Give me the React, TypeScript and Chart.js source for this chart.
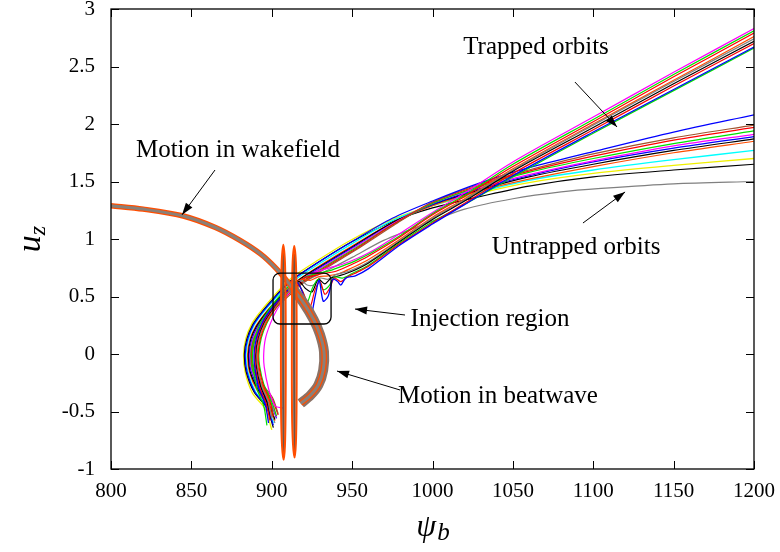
import React, { useEffect, useRef } from "react";
import { Chart, registerables } from "chart.js";
Chart.register(...registerables);

type Pt = [number, number];

// ---------- axes ----------
const xTickValues = [800, 850, 900, 950, 1000, 1050, 1100, 1150, 1200];
const yTickValues = [-1, -0.5, 0, 0.5, 1, 1.5, 2, 2.5, 3];
const yTickLabels = ["-1", "-0.5", "0", "0.5", "1", "1.5", "2", "2.5", "3"];
const xTitle = "ψ";
const xTitleSub = "b";
const yTitle = "u";
const yTitleSub = "z";

// ---------- colours (gnuplot postscript palette) ----------
const RED = "#ff0000";
const GREEN = "#00e000";
const BLUE = "#0000ff";
const MAGENTA = "#ff00ff";
const CYAN = "#00ffff";
const YELLOW = "#f0f000";
const BLACK = "#000000";
const ORANGE = "#ff4d00";
const GRAY = "#808080";

// ---------- wakefield band + beatwave right arc ----------
const wakefieldPath: Pt[] = [
  [800, 1.29], [820, 1.26], [845, 1.2], [865, 1.1], [880, 0.99], [893, 0.87], [903, 0.74],
  [912, 0.59], [920, 0.44], [926, 0.3], [930, 0.17], [932.5, 0.02], [932, -0.14],
  [929, -0.27], [924, -0.36], [918, -0.43],
];
const beatwaveArc: Pt[] = [
  [912, 0.59], [920, 0.44], [926, 0.3], [930, 0.17], [932.5, 0.02], [932, -0.14], [929, -0.27],
  [924, -0.36], [918, -0.43],
];

// ---------- tall oscillations in the injection zone ----------
const spikeA: Pt[] = [
  [905.7, 0], [905.8, 0.5], [906.2, 0.8], [907.2, 0.95], [908.2, 0.8], [908.6, 0.5], [908.7, 0],
  [908.6, -0.5], [908.2, -0.8], [907.4, -0.92], [906.4, -0.8], [905.8, -0.5], [905.7, 0],
];
const spikeACore: Pt[] = [[907.2, 0.88], [907.2, 0], [907.3, -0.86]];
const spikeB: Pt[] = [
  [912.5, 0], [912.6, 0.5], [913, 0.8], [914, 0.94], [915, 0.8], [915.4, 0.5], [915.5, 0],
  [915.4, -0.5], [915, -0.78], [914.2, -0.9], [913.2, -0.78], [912.6, -0.5], [912.5, 0],
];
const spikeBCore: Pt[] = [[914, 0.87], [914, 0], [914.2, -0.84]];

// ---------- untrapped orbits ----------
const untrappedYellow: Pt[] = [
  [900, -0.66], [896, -0.48], [888, -0.34], [883.5, -0.16], [882.5, 0], [884, 0.14], [887.5, 0.26],
  [892.5, 0.36], [898.5, 0.46], [905.5, 0.57], [913, 0.67], [927, 0.8], [948, 0.98], [975, 1.17],
  [1000, 1.29], [1030, 1.4], [1060, 1.49], [1100, 1.57], [1150, 1.64], [1200, 1.7],
];
const untrappedBlack: Pt[] = [
  [901, -0.64], [897, -0.47], [889, -0.33], [884, -0.15], [883, 0], [884.5, 0.13], [888, 0.25],
  [893, 0.35], [899, 0.45], [906, 0.56], [914, 0.66], [928, 0.79], [949, 0.97], [975, 1.15],
  [1000, 1.27], [1030, 1.37], [1060, 1.46], [1100, 1.54], [1150, 1.6], [1200, 1.65],
];
const untrappedBlue: Pt[] = [
  [901, -0.62], [897, -0.46], [889.5, -0.33], [884.5, -0.15], [883.5, 0], [885, 0.13], [888.5, 0.25],
  [893.5, 0.35], [899.5, 0.45], [906.5, 0.56], [914.5, 0.66], [928, 0.79], [949, 0.97], [975, 1.18],
  [1000, 1.33], [1030, 1.49], [1060, 1.62], [1100, 1.76], [1150, 1.93], [1200, 2.08],
];
const untrappedCyan: Pt[] = [
  [901, -0.6], [897, -0.45], [890, -0.33], [885, -0.15], [884, 0], [885.5, 0.13], [889, 0.25],
  [894, 0.35], [900, 0.45], [907, 0.55], [915, 0.65], [929, 0.78], [950, 0.96], [975, 1.16],
  [1000, 1.29], [1030, 1.41], [1060, 1.51], [1100, 1.6], [1150, 1.69], [1200, 1.77],
];
const untrappedOrange: Pt[] = [
  [902, -0.58], [898, -0.44], [891, -0.32], [886, -0.15], [885, 0], [886.5, 0.13], [890, 0.24],
  [895, 0.34], [901, 0.44], [908, 0.54], [916, 0.64], [930, 0.77], [950, 0.94], [975, 1.14],
  [1000, 1.29], [1030, 1.42], [1060, 1.52], [1100, 1.63], [1150, 1.75], [1200, 1.85],
];
const untrappedBlack2: Pt[] = [
  [902, -0.57], [898, -0.43], [891.5, -0.31], [886.5, -0.15], [885.5, 0], [887, 0.13], [890.5, 0.24],
  [895.5, 0.34], [901.5, 0.44], [908.5, 0.54], [916.5, 0.64], [931, 0.77], [951, 0.94], [975, 1.14],
  [1000, 1.3], [1030, 1.43], [1060, 1.54], [1100, 1.65], [1150, 1.77], [1200, 1.87],
];
const untrappedBlue2: Pt[] = [
  [903, -0.56], [899, -0.42], [892, -0.3], [887, -0.14], [886, 0], [887.5, 0.12], [891, 0.23],
  [896, 0.33], [902, 0.43], [909, 0.53], [917, 0.63], [931, 0.76], [951, 0.93], [975, 1.13],
  [1000, 1.3], [1030, 1.44], [1060, 1.55], [1100, 1.67], [1150, 1.79], [1200, 1.89],
];
const untrappedMagenta: Pt[] = [
  [903, -0.55], [899, -0.41], [892.5, -0.29], [887.5, -0.14], [886.5, 0], [888, 0.12], [891.5, 0.23],
  [896.5, 0.33], [902.5, 0.43], [909.5, 0.53], [917.5, 0.63], [932, 0.76], [952, 0.93], [975, 1.13],
  [1000, 1.31], [1030, 1.45], [1060, 1.56], [1100, 1.68], [1150, 1.81], [1200, 1.91],
];
const untrappedGreen: Pt[] = [
  [903, -0.54], [899.5, -0.4], [893, -0.28], [888, -0.14], [887, 0], [888.5, 0.12], [892, 0.22],
  [897, 0.32], [903, 0.42], [910, 0.52], [918, 0.62], [932, 0.75], [952, 0.92], [976, 1.13],
  [1000, 1.31], [1030, 1.46], [1060, 1.58], [1100, 1.7], [1150, 1.83], [1200, 1.94],
];
const untrappedRed: Pt[] = [
  [904, -0.53], [900, -0.39], [893.5, -0.27], [888.5, -0.13], [887.5, 0], [889, 0.12], [892.5, 0.22],
  [897.5, 0.32], [903.5, 0.42], [910.5, 0.52], [918.5, 0.62], [933, 0.75], [953, 0.92], [976, 1.13],
  [1000, 1.32], [1030, 1.47], [1060, 1.59], [1100, 1.72], [1150, 1.86], [1200, 1.97],
];
const untrappedOrange2: Pt[] = [
  [904, -0.52], [900.5, -0.38], [894, -0.26], [889, -0.13], [888, 0], [889.5, 0.12], [893, 0.22],
  [898, 0.32], [904, 0.42], [911, 0.51], [919, 0.61], [933, 0.74], [953, 0.91], [976, 1.12],
  [1000, 1.32], [1030, 1.48], [1060, 1.6], [1100, 1.74], [1150, 1.88], [1200, 1.99],
];
const untrappedGray: Pt[] = [
  [902, -0.6], [898, -0.46], [892, -0.34], [888, -0.16], [887, 0], [888.5, 0.14], [892, 0.26],
  [898, 0.38], [905, 0.48], [913, 0.57], [922, 0.64], [935, 0.73], [950, 0.84], [970, 0.99],
  [997, 1.14], [1020, 1.26], [1050, 1.35], [1080, 1.41], [1105, 1.44], [1150, 1.48], [1200, 1.5],
];

// ---------- trapped orbits ----------
const trappedBlue: Pt[] = [
  [898, -0.6], [896, -0.44], [892, -0.3], [889.5, -0.12], [889, 0], [890.5, 0.14], [894, 0.27],
  [899, 0.38], [905, 0.48], [911, 0.57], [916, 0.62], [920, 0.5], [924, 0.32], [927, 0.5],
  [929.5, 0.64], [932, 0.46], [935, 0.5], [938, 0.65], [941, 0.63], [943, 0.6], [946, 0.66],
  [952, 0.68], [960, 0.74], [980, 0.95], [1000, 1.13], [1020, 1.3], [1050, 1.55], [1100, 1.93],
  [1150, 2.3], [1200, 2.67],
];
const trappedRed2: Pt[] = [
  [899, -0.58], [896.5, -0.43], [892.5, -0.29], [890, -0.12], [889.5, 0], [891, 0.14], [894.5, 0.27],
  [899.5, 0.38], [905.5, 0.48], [911.5, 0.57], [916, 0.61], [920, 0.52], [923.5, 0.4], [927, 0.56],
  [930, 0.63], [933, 0.52], [936, 0.57], [939, 0.66], [943, 0.63], [947, 0.67], [953, 0.71],
  [960, 0.76], [980, 0.96], [1000, 1.14], [1020, 1.31], [1050, 1.57], [1100, 1.95], [1150, 2.33],
  [1200, 2.7],
];
const trappedGreen2: Pt[] = [
  [897, -0.62], [895, -0.45], [891, -0.31], [888.5, -0.12], [888, 0], [889.5, 0.14], [893, 0.27],
  [898, 0.38], [904, 0.49], [910, 0.58], [915, 0.63], [919, 0.55], [922, 0.45], [925.5, 0.58],
  [929, 0.65], [932, 0.56], [935.5, 0.59], [939, 0.67], [944, 0.66], [950, 0.7], [960, 0.77],
  [980, 0.97], [1000, 1.15], [1020, 1.3], [1050, 1.54], [1100, 1.92], [1150, 2.29], [1200, 2.66],
];
const trappedBlack: Pt[] = [
  [899, -0.57], [897, -0.42], [893, -0.28], [890.5, -0.12], [890, 0], [891.5, 0.14], [895, 0.27],
  [900, 0.38], [906, 0.49], [912, 0.58], [917, 0.63], [921, 0.57], [925, 0.54], [929, 0.65],
  [933, 0.61], [937, 0.66], [942, 0.68], [950, 0.72], [960, 0.79], [980, 0.98], [1000, 1.17],
  [1020, 1.33], [1050, 1.59], [1100, 1.97], [1150, 2.35], [1200, 2.72],
];
const trappedGray: Pt[] = [
  [900, -0.56], [897.5, -0.41], [893.5, -0.27], [891, -0.11], [890.5, 0], [892, 0.14], [895.5, 0.27],
  [900.5, 0.38], [906.5, 0.49], [912.5, 0.58], [918, 0.64], [922, 0.6], [926, 0.6], [930, 0.66],
  [935, 0.65], [940, 0.69], [948, 0.72], [960, 0.8], [980, 0.99], [1000, 1.18], [1020, 1.34],
  [1050, 1.6], [1100, 1.99], [1150, 2.37], [1200, 2.74],
];
const trappedOrange: Pt[] = [
  [900, -0.55], [898, -0.4], [894, -0.27], [891.5, -0.11], [891, 0], [892.5, 0.14], [896, 0.27],
  [901, 0.38], [907, 0.49], [913, 0.59], [919, 0.65], [924, 0.64], [929, 0.67], [935, 0.68],
  [942, 0.7], [950, 0.75], [960, 0.82], [980, 1.0], [1000, 1.19], [1020, 1.35], [1050, 1.61],
  [1100, 2.0], [1150, 2.38], [1200, 2.76],
];
const trappedRed: Pt[] = [
  [901, -0.54], [898.5, -0.4], [894.5, -0.26], [892, -0.11], [891.5, 0], [893, 0.14], [896.5, 0.27],
  [901.5, 0.38], [907.5, 0.5], [913.5, 0.6], [920, 0.66], [926, 0.68], [932, 0.7], [940, 0.72],
  [950, 0.78], [960, 0.85], [980, 1.02], [1000, 1.21], [1020, 1.37], [1050, 1.63], [1100, 2.02],
  [1150, 2.41], [1200, 2.79],
];
const trappedGreen: Pt[] = [
  [901, -0.53], [899, -0.39], [895, -0.26], [892.5, -0.11], [892, 0], [893.5, 0.14], [897, 0.27],
  [902, 0.39], [908, 0.5], [914, 0.6], [921, 0.67], [928, 0.7], [935, 0.72], [943, 0.76],
  [952, 0.81], [962, 0.88], [980, 1.03], [1000, 1.22], [1020, 1.38], [1050, 1.65], [1100, 2.04],
  [1150, 2.43], [1200, 2.81],
];
const trappedMagenta: Pt[] = [
  [907, -0.47], [902, -0.45], [898, -0.3], [895.3, -0.11], [895, 0], [896, 0.13], [899, 0.26],
  [903, 0.38], [909, 0.5], [915, 0.6], [922, 0.68], [929, 0.72], [936, 0.75], [944, 0.78],
  [953, 0.83], [963, 0.9], [980, 1.05], [1000, 1.23], [1020, 1.4], [1050, 1.67], [1100, 2.06],
  [1150, 2.45], [1200, 2.83],
];

// ---------- annotations (data coordinates) ----------
const noteTexts = ["Motion in wakefield", "Trapped orbits", "Untrapped orbits", "Injection region", "Motion in beatwave"];
const noteX = [879, 1064.4, 1089.3, 1035.8, 1040.7];
const noteY = [1.774, 2.67, 0.93, 0.3, -0.365];
const arrowFromX = [864.7, 1088.6, 1093.6, 982.9, 979.8];
const arrowFromY = [1.6, 2.365, 1.139, 0.339, -0.313];
const arrowToX = [844.2, 1114.8, 1119.8, 951.8, 940.6];
const arrowToY = [1.21, 1.974, 1.409, 0.391, -0.148];
const injectionBoxX = [900.8, 936.9];
const injectionBoxY = [0.261, 0.704];

const SERIF = '"Liberation Serif", "Times New Roman", serif';

function drawArrow(ctx: CanvasRenderingContext2D, x0: number, y0: number, x1: number, y1: number) {
  ctx.beginPath();
  ctx.moveTo(x0, y0);
  ctx.lineTo(x1, y1);
  ctx.stroke();
  const ang = Math.atan2(y1 - y0, x1 - x0);
  const L = 12;
  const W = 4;
  ctx.beginPath();
  ctx.moveTo(x1, y1);
  ctx.lineTo(x1 - L * Math.cos(ang) + W * Math.sin(ang), y1 - L * Math.sin(ang) - W * Math.cos(ang));
  ctx.lineTo(x1 - L * Math.cos(ang) - W * Math.sin(ang), y1 - L * Math.sin(ang) + W * Math.cos(ang));
  ctx.closePath();
  ctx.fill();
}

const decor = {
  id: "decor",
  afterDatasetsDraw(chart: any) {
    const { ctx, chartArea: a, scales } = chart;
    const xs = scales.x;
    const ys = scales.y;
    ctx.save();
    ctx.strokeStyle = "#000";
    ctx.fillStyle = "#000";

    // injection box
    const bx0 = xs.getPixelForValue(injectionBoxX[0]);
    const bx1 = xs.getPixelForValue(injectionBoxX[1]);
    const by0 = ys.getPixelForValue(injectionBoxY[1]);
    const by1 = ys.getPixelForValue(injectionBoxY[0]);
    ctx.lineWidth = 1.3;
    ctx.beginPath();
    (ctx as any).roundRect(bx0, by0, bx1 - bx0, by1 - by0, 7);
    ctx.stroke();

    // frame
    ctx.lineWidth = 1.3;
    ctx.strokeRect(a.left, a.top, a.right - a.left, a.bottom - a.top);

    // inner ticks on all sides
    ctx.lineWidth = 1;
    const tl = 8;
    for (const v of xTickValues) {
      const p = Math.round(xs.getPixelForValue(v)) + 0.5;
      ctx.beginPath();
      ctx.moveTo(p, a.bottom);
      ctx.lineTo(p, a.bottom - tl);
      ctx.moveTo(p, a.top);
      ctx.lineTo(p, a.top + tl);
      ctx.stroke();
    }
    for (const v of yTickValues) {
      const p = Math.round(ys.getPixelForValue(v)) + 0.5;
      ctx.beginPath();
      ctx.moveTo(a.left, p);
      ctx.lineTo(a.left + tl, p);
      ctx.moveTo(a.right, p);
      ctx.lineTo(a.right - tl, p);
      ctx.stroke();
    }

    // arrows
    ctx.lineWidth = 1;
    for (let i = 0; i < arrowFromX.length; i++) {
      drawArrow(
        ctx,
        xs.getPixelForValue(arrowFromX[i]),
        ys.getPixelForValue(arrowFromY[i]),
        xs.getPixelForValue(arrowToX[i]),
        ys.getPixelForValue(arrowToY[i])
      );
    }

    // notes
    ctx.font = `25px ${SERIF}`;
    ctx.textAlign = "center";
    ctx.textBaseline = "middle";
    for (let i = 0; i < noteTexts.length; i++) {
      ctx.fillText(noteTexts[i], xs.getPixelForValue(noteX[i]), ys.getPixelForValue(noteY[i]));
    }

    // x title
    ctx.textAlign = "left";
    ctx.textBaseline = "alphabetic";
    ctx.font = `italic 32px ${SERIF}`;
    const wPsi = ctx.measureText(xTitle).width;
    ctx.font = `italic 25px ${SERIF}`;
    const wB = ctx.measureText(xTitleSub).width;
    const cx = (a.left + a.right) / 2;
    const startX = cx - (wPsi + wB) / 2;
    ctx.font = `italic 32px ${SERIF}`;
    ctx.fillText(xTitle, startX, 536);
    ctx.font = `italic 25px ${SERIF}`;
    ctx.fillText(xTitleSub, startX + wPsi + 1, 540);

    // y title (rotated)
    ctx.save();
    const cy = (a.top + a.bottom) / 2;
    ctx.translate(30, cy);
    ctx.rotate(-Math.PI / 2);
    ctx.font = `italic 34px ${SERIF}`;
    const wU = ctx.measureText(yTitle).width;
    ctx.font = `italic 24px ${SERIF}`;
    const wZ = ctx.measureText(yTitleSub).width;
    const sx = -(wU + wZ) / 2;
    ctx.font = `italic 34px ${SERIF}`;
    ctx.fillText(yTitle, sx, 10);
    ctx.font = `italic 24px ${SERIF}`;
    ctx.fillText(yTitleSub, sx + wU, 15);
    ctx.restore();

    ctx.restore();
  },
};

export default function App() {
  const canvasRef = useRef<HTMLCanvasElement | null>(null);

  useEffect(() => {
    const canvas = canvasRef.current;
    if (!canvas) return;

    // drawn bottom -> top
    const layers: { pts: Pt[]; color: string; width: number }[] = [
      { pts: untrappedGray, color: GRAY, width: 1.2 },
      { pts: untrappedYellow, color: YELLOW, width: 1.3 },
      { pts: untrappedBlack, color: BLACK, width: 1.2 },
      { pts: untrappedCyan, color: CYAN, width: 1.3 },
      { pts: untrappedOrange, color: ORANGE, width: 1.2 },
      { pts: untrappedBlack2, color: BLACK, width: 1.2 },
      { pts: untrappedBlue2, color: BLUE, width: 1.2 },
      { pts: untrappedMagenta, color: MAGENTA, width: 1.2 },
      { pts: untrappedGreen, color: GREEN, width: 1.2 },
      { pts: untrappedRed, color: RED, width: 1.2 },
      { pts: untrappedOrange2, color: "#a0522d", width: 1.2 },
      { pts: untrappedBlue, color: BLUE, width: 1.2 },
      { pts: trappedMagenta, color: MAGENTA, width: 1.2 },
      { pts: trappedGreen, color: GREEN, width: 1.2 },
      { pts: trappedRed, color: RED, width: 1.2 },
      { pts: trappedOrange, color: ORANGE, width: 1.2 },
      { pts: trappedGray, color: GRAY, width: 1.2 },
      { pts: trappedBlack, color: BLACK, width: 1.2 },
      { pts: trappedGreen2, color: GREEN, width: 1.2 },
      { pts: trappedRed2, color: RED, width: 1.2 },
      { pts: trappedBlue, color: BLUE, width: 1.3 },
      { pts: beatwaveArc, color: "#8c7266", width: 10 },
      { pts: wakefieldPath, color: ORANGE, width: 5.5 },
      { pts: wakefieldPath, color: "#8a8078", width: 3 },
      { pts: spikeACore, color: "#6a5548", width: 2.5 },
      { pts: spikeBCore, color: "#6a5548", width: 2.5 },
      { pts: spikeA, color: ORANGE, width: 2 },
      { pts: spikeB, color: ORANGE, width: 2 },
    ];

    const datasets = layers
      .map((l) => ({
        data: l.pts.map(([x, y]) => ({ x, y })),
        borderColor: l.color,
        backgroundColor: l.color,
        borderWidth: l.width,
        showLine: true,
        pointRadius: 0,
        tension: 0.3,
        fill: false,
      }))
      .reverse();

    const chart = new Chart(canvas, {
      type: "scatter",
      data: { datasets },
      options: {
        animation: false,
        responsive: false,
        devicePixelRatio: 1,
        events: [],
        layout: { padding: { top: 9, right: 26, left: 0, bottom: 0 } },
        plugins: { legend: { display: false }, tooltip: { enabled: false } },
        scales: {
          x: {
            type: "linear",
            min: 800,
            max: 1200,
            afterFit: (s: any) => {
              s.height = 83;
            },
            border: { display: false },
            grid: { display: true, drawOnChartArea: false, drawTicks: true, tickLength: 10, color: "rgba(0,0,0,0)" },
            ticks: {
              stepSize: 50,
              autoSkip: false,
              maxRotation: 0,
              padding: 0,
              color: "#000",
              font: { family: SERIF, size: 21 },
              callback: (v: any) => String(v),
            },
          },
          y: {
            type: "linear",
            min: -1,
            max: 3,
            afterFit: (s: any) => {
              s.width = 111;
            },
            border: { display: false },
            grid: { display: true, drawOnChartArea: false, drawTicks: true, tickLength: 16, color: "rgba(0,0,0,0)" },
            ticks: {
              stepSize: 0.5,
              autoSkip: false,
              padding: 0,
              color: "#000",
              font: { family: SERIF, size: 21, lineHeight: 0.8 },
              callback: (v: any) => {
                const i = yTickValues.indexOf(Number(v));
                return i >= 0 ? yTickLabels[i] : String(v);
              },
            },
          },
        },
      },
      plugins: [decor],
    } as any);

    return () => chart.destroy();
  }, []);

  return (
    <div style={{ position: "absolute", left: 0, top: 0, width: 780, height: 552, background: "#fff" }}>
      <canvas ref={canvasRef} width={780} height={552} style={{ display: "block" }} />
    </div>
  );
}
